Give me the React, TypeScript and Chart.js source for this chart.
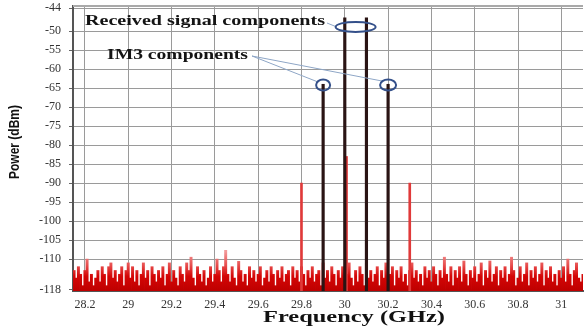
import React, { useEffect, useRef } from 'react';
import { Chart, registerables } from 'chart.js';

Chart.register(...registerables);

// Noise floor samples (dBm), one every 0.01 GHz starting at 28.75 GHz
const noiseStartGHz = 28.75;
const noiseStepGHz = 0.01;
const noiseLevels = [
  -113, -115, -112, -114, -117, -113, -110, -116, -114, -117,
  -115, -113, -116, -112, -114, -117, -112, -111, -115, -113,
  -116, -114, -112, -117, -113, -111, -115, -112, -116, -113,
  -117, -114, -111, -115, -113, -117, -112, -114, -116, -113,
  -115, -112, -117, -114, -111, -116, -113, -115, -117, -112,
  -114, -116, -111, -113, -109.5, -115, -117, -112, -114, -116,
  -113, -117, -115, -112, -116, -114, -110, -113, -116, -112,
  -107.7, -114, -116, -112, -115, -117, -110.6, -113, -116, -114,
  -117, -112, -115, -113, -116, -114, -112, -117, -115, -113,
  -116, -112, -114, -117, -113, -115, -112, -116, -114, -113,
  -117, -112, -115, -113, -116, -112, -114, -117, -113, -115,
  -112, -116, -114, -113, -117, -111, -115, -113, -116, -112,
  -114, -117, -113, -115, -112, -116, -114, -111, -115, -117,
  -113, -116, -112, -114, -117, -111, -115, -113, -116, -114,
  -112, -117, -113, -115, -111, -116, -114, -112, -117, -113,
  -115, -112, -116, -114, -117, -113, -111, -115, -113, -116,
  -114, -117, -112, -115, -113, -116, -112, -114, -117, -113,
  -115, -109.5, -114, -116, -112, -117, -113, -115, -112, -116,
  -110.5, -114, -117, -113, -115, -112, -116, -114, -111, -117,
  -113, -115, -110.5, -116, -114, -112, -117, -113, -115, -112,
  -116, -114, -109.5, -113, -117, -115, -112, -116, -114, -111,
  -117, -113, -115, -112, -116, -114, -111, -117, -113, -115,
  -112, -116, -114, -117, -113, -115, -112, -116, -110, -114,
  -117, -113, -111, -115, -116, -114,
];

// Red spurious spikes
const spurFreqs = [29.8, 30.008, 30.3];
const spurLevels = [-90, -83, -90];

// Received signal tones and IM3 products (black)
const toneFreqs = [29.9, 30.0, 30.1, 30.2];
const toneLevels = [-64, -46.5, -46.5, -64];

// Axes
const xTickValues = [28.8, 29, 29.2, 29.4, 29.6, 29.8, 30, 30.2, 30.4, 30.6, 30.8, 31];
const xTickLabels = ['28.2', '29', '29.2', '29.4', '29.6', '29.8', '30', '30.2', '30.4', '30.6', '30.8', '31'];
const yTickValues = [-118, -110, -105, -100, -95, -90, -85, -80, -75, -70, -65, -60, -55, -50, -44];
const xMin = 28.745;
const xMax = 31.1;
const yMin = -118.4;
const yMax = -43.4;

const xTitle = 'Frequency (GHz)';
const yTitle = 'Power (dBm)';
const signalLabel = 'Received signal components';
const im3Label = 'IM3 components';

function fitText(ctx: CanvasRenderingContext2D, text: string, left: number, cy: number, width: number, font: string) {
  ctx.save();
  ctx.font = font;
  const m = ctx.measureText(text).width;
  ctx.translate(left, cy);
  ctx.scale(width / m, 1);
  ctx.textAlign = 'left';
  ctx.textBaseline = 'middle';
  ctx.fillText(text, 0, 0);
  ctx.restore();
}

const annotPlugin = {
  id: 'annot',
  afterDatasetsDraw(chart: any) {
    const { ctx, chartArea } = chart;
    const x = chart.scales.x;
    const y = chart.scales.y;
    const L = chartArea.left;
    const R = chartArea.right;
    const T = chartArea.top;

    ctx.save();
    // top frame line
    ctx.fillStyle = '#a9a9a9';
    ctx.fillRect(L, T - 1, R - L, 2);

    const bigCx = x.getPixelForValue(30.05);
    const bigCy = y.getPixelForValue(-48.9);
    const s1x = x.getPixelForValue(29.9);
    const s2x = x.getPixelForValue(30.2);
    const sy = y.getPixelForValue(-64.2);

    // leader lines
    ctx.strokeStyle = '#8ea6c6';
    ctx.lineWidth = 1;
    ctx.beginPath();
    ctx.moveTo(327, 23);
    ctx.lineTo(bigCx - 19, bigCy);
    ctx.moveTo(252, 56);
    ctx.lineTo(s1x - 5, sy - 3);
    ctx.moveTo(252, 56);
    ctx.lineTo(s2x - 6, sy - 4);
    ctx.stroke();

    // ellipses
    ctx.strokeStyle = '#34508a';
    ctx.lineWidth = 2;
    ctx.beginPath();
    ctx.ellipse(bigCx, bigCy, 20, 5, 0, 0, Math.PI * 2);
    ctx.stroke();
    ctx.beginPath();
    ctx.ellipse(s1x, sy, 7, 5.5, 0, 0, Math.PI * 2);
    ctx.stroke();
    ctx.beginPath();
    ctx.ellipse(s2x, sy, 8, 5.5, 0, 0, Math.PI * 2);
    ctx.stroke();

    // labels
    ctx.fillStyle = '#141414';
    fitText(ctx, signalLabel, 85, 21, 240, 'bold 14px "Liberation Serif", serif');
    fitText(ctx, im3Label, 107, 55, 141, 'bold 14px "Liberation Serif", serif');
    ctx.restore();
  },
  afterDraw(chart: any) {
    const { ctx } = chart;
    ctx.save();
    ctx.fillStyle = '#111';
    fitText(ctx, xTitle, 263, 318, 182, 'bold 17px "Liberation Serif", serif');
    ctx.translate(15, 142);
    ctx.rotate(-Math.PI / 2);
    fitText(ctx, yTitle, -37, 0, 74, 'bold 15px "Liberation Sans Narrow", "Liberation Sans", sans-serif');
    ctx.restore();
  },
};

export default function App() {
  const ref = useRef<HTMLCanvasElement | null>(null);
  useEffect(() => {
    document.body.style.margin = '0';
    const canvas = ref.current;
    if (!canvas) return;
    const noiseData = noiseLevels.map((v, i) => ({
      x: Math.round((noiseStartGHz + i * noiseStepGHz) * 1000) / 1000,
      y: [yMin, v],
    }));
    const spurData = spurFreqs.map((f, i) => ({ x: f, y: [yMin, spurLevels[i]] }));
    const toneData = toneFreqs.map((f, i) => ({ x: f, y: [yMin, toneLevels[i]] }));
    const noiseFill = (c: any) => {
      const ch = c.chart;
      const area = ch.chartArea;
      if (!area) return '#d00000';
      const ys = ch.scales.y;
      const g = ch.ctx.createLinearGradient(0, ys.getPixelForValue(-118), 0, ys.getPixelForValue(-108));
      g.addColorStop(0, '#c00000');
      g.addColorStop(0.35, '#d40606');
      g.addColorStop(0.65, '#e85050');
      g.addColorStop(1, '#f29a9a');
      return g;
    };
    const chart = new Chart(canvas, {
      type: 'bar',
      data: {
        datasets: [
          { data: toneData as any, backgroundColor: '#2a1414', barThickness: 2.5, grouped: false } as any,
          { data: spurData as any, backgroundColor: '#e03a3a', barThickness: 2, grouped: false } as any,
          { data: noiseData as any, backgroundColor: noiseFill, barThickness: 2.3, grouped: false } as any,
        ],
      },
      plugins: [annotPlugin],
      options: {
        animation: false,
        responsive: false,
        devicePixelRatio: 1,
        events: [],
        layout: { padding: { left: 0, right: 2, top: 6, bottom: 0 } },
        plugins: { legend: { display: false }, tooltip: { enabled: false } },
        scales: {
          x: {
            type: 'linear',
            offset: false,
            min: xMin,
            max: xMax,
            afterBuildTicks: (scale: any) => {
              scale.ticks = xTickValues.map((v) => ({ value: v }));
            },
            afterFit: (scale: any) => {
              scale.height = 39;
              scale.paddingLeft = 0;
              scale.paddingRight = 0;
            },
            grid: { display: true, drawOnChartArea: true, drawTicks: false, offset: false, color: '#9a9a9a', lineWidth: 1 },
            border: { display: true, color: '#555', width: 2 },
            ticks: {
              padding: 7,
              color: '#333',
              font: { family: '"Liberation Serif", serif', size: 12 },
              maxRotation: 0,
              autoSkip: false,
              callback: (_v: any, i: number) => xTickLabels[i],
            },
          },
          y: {
            type: 'linear',
            min: yMin,
            max: yMax,
            afterBuildTicks: (scale: any) => {
              scale.ticks = yTickValues.map((v) => ({ value: v }));
            },
            afterFit: (scale: any) => {
              scale.width = 73;
              scale.paddingTop = 0;
              scale.paddingBottom = 0;
            },
            grid: { display: true, drawOnChartArea: true, tickLength: 4, tickColor: '#666', color: '#9a9a9a', lineWidth: 1 },
            border: { color: '#555', width: 2 },
            ticks: {
              padding: 8,
              color: '#333',
              font: { family: '"Liberation Serif", serif', size: 12 },
              autoSkip: false,
              callback: (v: any) => String(v),
            },
          },
        },
      } as any,
    });
    return () => chart.destroy();
  }, []);
  return (
    <div style={{ width: 585, height: 330, background: '#fff' }}>
      <canvas ref={ref} width={585} height={330} style={{ display: 'block' }} />
    </div>
  );
}
